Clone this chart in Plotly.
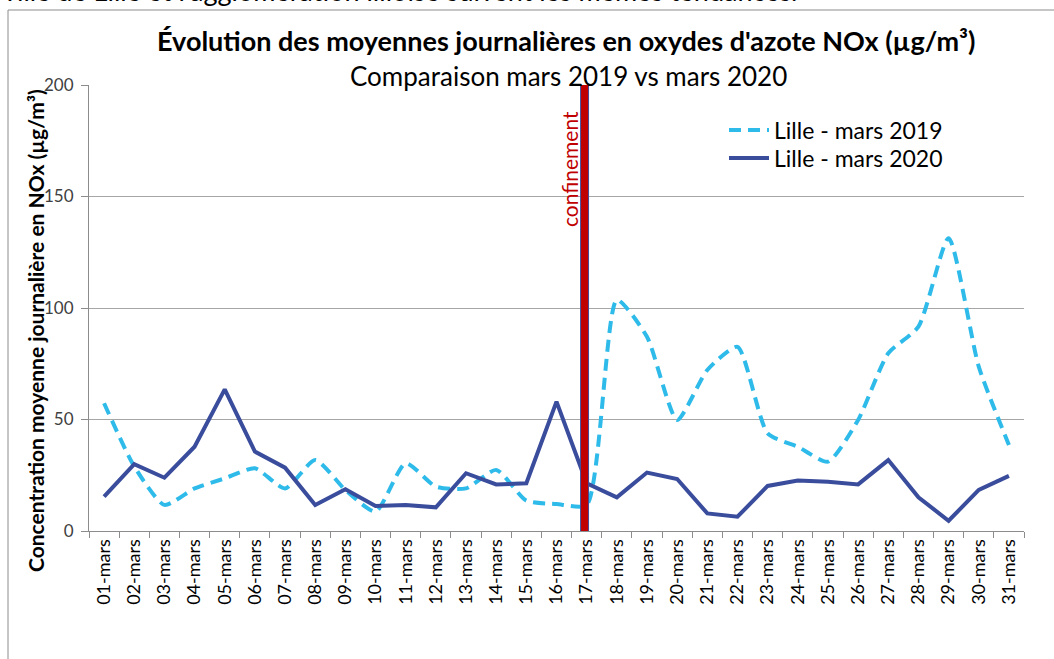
import plotly.graph_objects as go

days = [f"{d:02d}-mars" for d in range(1, 32)]
lille_2019 = [57.3, 29, 11.7, 19.1, 23.6, 28.1, 19.1, 31.8, 18.4, 8.7,
              30.4, 19.9, 19.1, 27.4, 13.6, 12.1, 11.7, 103.6, 87.1, 49.8,
              72.2, 82.6, 43.8, 37.8, 31.1, 49.8, 79.7, 91.6, 131.3, 73.7, 38.6]
lille_2020 = [15.4, 30.0, 23.9, 37.8, 63.5, 35.6, 28.4, 11.7, 18.7, 11.2,
              11.7, 10.6, 25.9, 20.9, 21.4, 58.0, 21.4, 15.1, 26.2, 23.3,
              7.9, 6.4, 20.2, 22.6, 22.1, 20.9, 31.8, 15.1, 4.6, 18.4, 24.7]
y_ticks = [0, 50, 100, 150, 200]
confinement_day = "17-mars"

FONT = "Lato"
W, H = 1054, 659
L, R, T, B = 89, 30, 85, 128
pw, ph = W - L - R, H - T - B

def px_x(p):
    return (p - L) / pw

def px_y(p):
    return (H - B - p) / ph

fig = go.Figure()
fig.add_trace(go.Scatter(
    x=days, y=lille_2019, mode="lines", name="Lille - mars 2019", legend="legend",
    line=dict(color="#2FBBEA", width=4, dash="12px,7px", shape="spline", smoothing=0.6),
))
fig.add_trace(go.Scatter(
    x=days, y=lille_2020, mode="lines", name="Lille - mars 2020", legend="legend2",
    line=dict(color="#3A4C9C", width=4),
))

ci = days.index(confinement_day) - 0.07
fig.add_shape(type="line", xref="x", yref="y", x0=ci, x1=ci, y0=0, y1=200,
              line=dict(color="#3F4F9F", width=9), layer="above")
fig.add_shape(type="line", xref="x", yref="y", x0=ci, x1=ci, y0=0, y1=200,
              line=dict(color="#C00000", width=7), layer="above")
fig.add_annotation(x=ci, y=189, xref="x", yref="y", text="confinement", textangle=-90,
                   xshift=-15, xanchor="center", yanchor="top", showarrow=False,
                   font=dict(family=FONT, size=21, color="#C00000"))

# frame
fig.add_shape(type="rect", xref="paper", yref="paper",
              x0=px_x(8), x1=px_x(1070), y0=px_y(680), y1=px_y(10),
              line=dict(color="#8C8C8C", width=1), layer="below")

fig.add_annotation(x=px_x(1), y=px_y(9), xref="paper", yref="paper",
                   text="ville de Lille et l'agglomération lilloise suivent les mêmes tendances.",
                   xanchor="left", yanchor="bottom", showarrow=False,
                   font=dict(family=FONT, size=27, color="#000000"))

fig.add_annotation(x=px_x(566), y=px_y(41), xref="paper", yref="paper",
                   text="<b>Évolution des moyennes journalières en oxydes d'azote NOx (µg/m³)</b>",
                   xanchor="center", yanchor="middle",
                   showarrow=False, font=dict(family=FONT, size=27, color="#000000"))
fig.add_annotation(x=px_x(568), y=px_y(76), xref="paper", yref="paper",
                   text="Comparaison mars 2019 vs mars 2020",
                   xanchor="center", yanchor="middle",
                   showarrow=False, font=dict(family=FONT, size=26, color="#000000"))
fig.add_annotation(x=px_x(35), y=px_y(331), xref="paper", yref="paper",
                   text="<b>Concentration moyenne journalière en NOx (µg/m³)</b>",
                   xanchor="center", yanchor="middle",
                   textangle=-90, showarrow=False,
                   font=dict(family=FONT, size=21, color="#000000"))

legend_style = dict(xanchor="left", yanchor="middle", bgcolor="rgba(0,0,0,0)",
                    font=dict(family=FONT, size=23, color="#000000"), itemwidth=40)

fig.update_layout(
    width=W, height=H,
    margin=dict(l=L, r=R, t=T, b=B),
    paper_bgcolor="white", plot_bgcolor="white",
    showlegend=True,
    legend=dict(x=px_x(724), y=px_y(130), **legend_style),
    legend2=dict(x=px_x(724), y=px_y(158), **legend_style),
    xaxis=dict(type="category", range=[-0.5, 30.5], tickson="boundaries",
               ticks="outside", ticklen=6, tickcolor="#8C8C8C",
               showline=True, linecolor="#8C8C8C", linewidth=1, showgrid=False,
               tickangle=-90, tickfont=dict(family=FONT, size=18, color="#000000")),
    yaxis=dict(range=[0, 200], tickvals=y_ticks, ticks="outside", ticklen=7,
               tickcolor="#8C8C8C", showline=True, linecolor="#8C8C8C", linewidth=1,
               gridcolor="#A6A6A6", gridwidth=1, zeroline=False, ticklabelstandoff=4,
               tickfont=dict(family=FONT, size=17, color="#404040")),
)

fig.write_html("out.html", config={"displayModeBar": False},
               post_script="document.body.style.margin='0';document.body.style.overflow='hidden';")
